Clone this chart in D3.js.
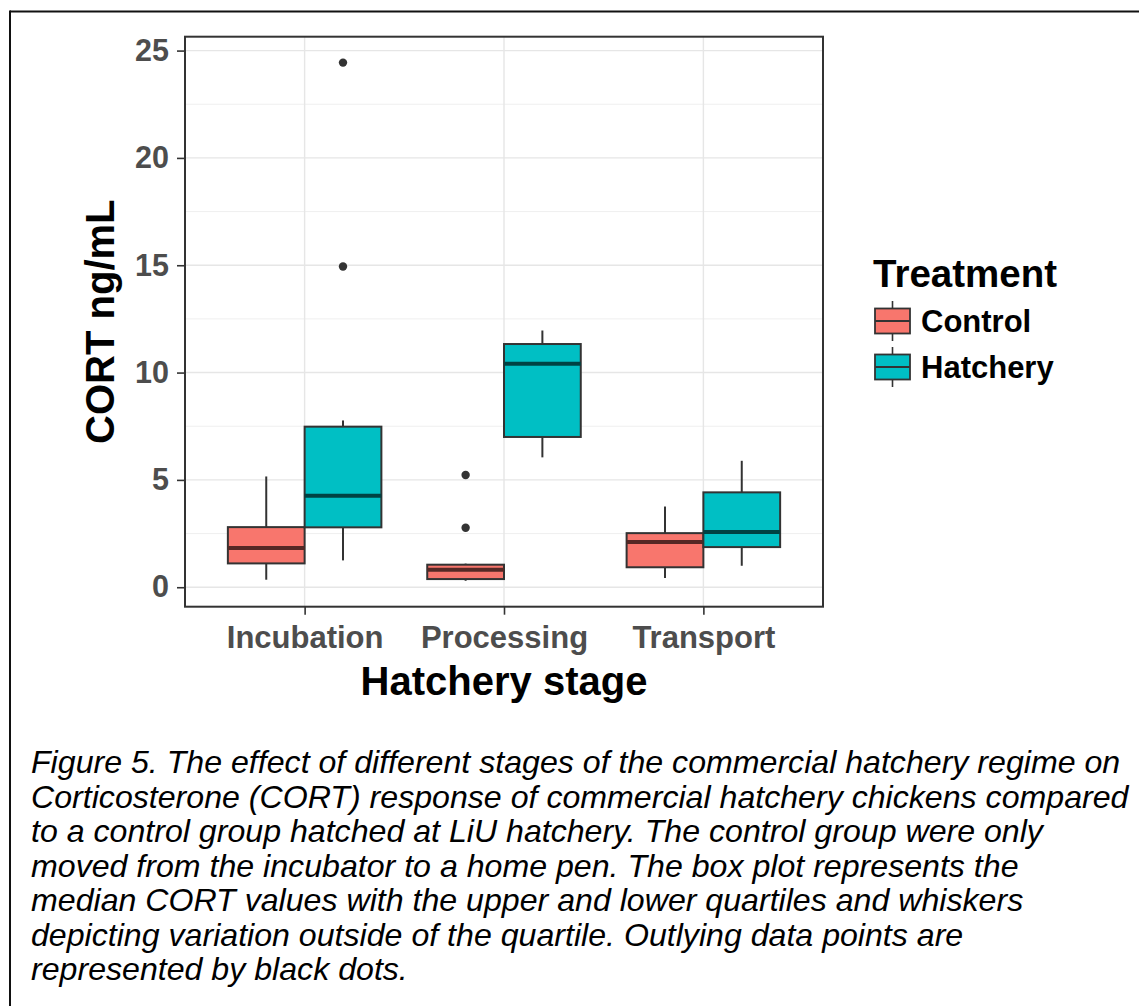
<!DOCTYPE html>
<html>
<head>
<meta charset="utf-8">
<script src="https://cdn.jsdelivr.net/npm/d3@7"></script>
<style>
  html, body { margin: 0; padding: 0; background: #fff; }
  svg { display: block; }
  text { font-family: "Liberation Sans", Arial, Helvetica, sans-serif; }
</style>
</head>
<body>
<svg id="fig" width="1139" height="1006"></svg>
<script>
// Hatchery stages on the x axis and treatment groups within each stage
const categories = ["Incubation", "Processing", "Transport"];
const treatments = ["Control", "Hatchery"];
const treatmentColors = ["#F8766D", "#00BFC4"];

// Box statistics per stage (ng/mL)
const controlLower   = [0.35, 0.30, 0.43];
const controlQ1      = [1.11, 0.38, 0.93];
const controlMedian  = [1.83, 0.82, 2.11];
const controlQ3      = [2.80, 1.05, 2.52];
const controlUpper   = [5.16, 1.10, 3.76];
const controlOutliers = [[], [5.23, 2.77], []];

const hatcheryLower   = [1.25, 6.05, 1.00];
const hatcheryQ1      = [2.79, 7.00, 1.87];
const hatcheryMedian  = [4.26, 10.41, 2.57];
const hatcheryQ3      = [7.48, 11.33, 4.42];
const hatcheryUpper   = [7.77, 11.96, 5.89];
const hatcheryOutliers = [[24.44, 14.94], [], []];

const yTicks = [0, 5, 10, 15, 20, 25];
const yMinorTicks = [2.5, 7.5, 12.5, 17.5, 22.5];

const xTitle = "Hatchery stage";
const yTitle = "CORT ng/mL";
const legendTitle = "Treatment";

const captionLines = [
  "Figure 5. The effect of different stages of the commercial hatchery regime on",
  "Corticosterone (CORT) response of commercial hatchery chickens compared",
  "to a control group hatched at LiU hatchery. The control group were only",
  "moved from the incubator to a home pen. The box plot represents the",
  "median CORT values with the upper and lower quartiles and whiskers",
  "depicting variation outside of the quartile. Outlying data points are",
  "represented by black dots."
];

// Build one record per box
const series = [
  { name: "Control", lower: controlLower, q1: controlQ1, median: controlMedian, q3: controlQ3, upper: controlUpper, outliers: controlOutliers },
  { name: "Hatchery", lower: hatcheryLower, q1: hatcheryQ1, median: hatcheryMedian, q3: hatcheryQ3, upper: hatcheryUpper, outliers: hatcheryOutliers }
];
const boxes = [];
series.forEach(s => {
  categories.forEach((c, i) => {
    boxes.push({
      category: c, treatment: s.name,
      lower: s.lower[i], q1: s.q1[i], median: s.median[i], q3: s.q3[i], upper: s.upper[i],
      outliers: s.outliers[i]
    });
  });
});

const svg = d3.select("#fig");
const panel = { left: 185, right: 823, top: 36.7, bottom: 606.7 };

// Outer figure frame (top and left rules)
svg.append("line").attr("x1", 10).attr("x2", 1139).attr("y1", 11.5).attr("y2", 11.5)
  .attr("stroke", "#111").attr("stroke-width", 2);
svg.append("line").attr("x1", 10).attr("x2", 10).attr("y1", 10.5).attr("y2", 1006)
  .attr("stroke", "#111").attr("stroke-width", 2);

// Scales
const x = d3.scalePoint().domain(categories).range([panel.left, panel.right]).padding(0.6);
const dodgeWidth = x.step() * 0.77;
const xInner = d3.scaleBand().domain(treatments).range([-dodgeWidth / 2, dodgeWidth / 2]);
const color = d3.scaleOrdinal().domain(treatments).range(treatmentColors);

const allVals = boxes.flatMap(b => [b.lower, b.upper, ...b.outliers]);
const [vMin, vMax] = d3.extent(allVals);
const pad = (vMax - vMin) * 0.05;
const y = d3.scaleLinear().domain([vMin - pad, vMax + pad]).range([panel.bottom, panel.top]);

const g = svg.append("g");

// Grid lines
g.selectAll(".minor").data(yMinorTicks).join("line")
  .attr("x1", panel.left).attr("x2", panel.right)
  .attr("y1", d => y(d)).attr("y2", d => y(d))
  .attr("stroke", "#EFEFEF").attr("stroke-width", 1);
g.selectAll(".majorY").data(yTicks).join("line")
  .attr("x1", panel.left).attr("x2", panel.right)
  .attr("y1", d => y(d)).attr("y2", d => y(d))
  .attr("stroke", "#E6E6E6").attr("stroke-width", 1.4);
g.selectAll(".majorX").data(categories).join("line")
  .attr("x1", d => x(d)).attr("x2", d => x(d))
  .attr("y1", panel.top).attr("y2", panel.bottom)
  .attr("stroke", "#E6E6E6").attr("stroke-width", 1.4);

// Boxes
const boxG = g.selectAll(".box").data(boxes).join("g")
  .attr("transform", d => `translate(${x(d.category) + xInner(d.treatment) + xInner.bandwidth() / 2},0)`);
const bw = xInner.bandwidth();

boxG.append("line")
  .attr("x1", 0).attr("x2", 0)
  .attr("y1", d => y(d.upper)).attr("y2", d => y(d.q3))
  .attr("stroke", "#333").attr("stroke-width", 2);
boxG.append("line")
  .attr("x1", 0).attr("x2", 0)
  .attr("y1", d => y(d.q1)).attr("y2", d => y(d.lower))
  .attr("stroke", "#333").attr("stroke-width", 2);
boxG.append("rect")
  .attr("x", -bw / 2).attr("width", bw)
  .attr("y", d => y(d.q3)).attr("height", d => y(d.q1) - y(d.q3))
  .attr("fill", d => color(d.treatment))
  .attr("stroke", "#333").attr("stroke-width", 2);
boxG.append("line")
  .attr("x1", -bw / 2).attr("x2", bw / 2)
  .attr("y1", d => y(d.median)).attr("y2", d => y(d.median))
  .attr("stroke", d => d3.color(color(d.treatment)).darker(3).formatHex())
  .attr("stroke-width", 4);
boxG.selectAll("circle").data(d => d.outliers).join("circle")
  .attr("cx", 0).attr("cy", v => y(v)).attr("r", 4.2)
  .attr("fill", "#333");

// Panel border
g.append("rect")
  .attr("x", panel.left).attr("y", panel.top)
  .attr("width", panel.right - panel.left).attr("height", panel.bottom - panel.top)
  .attr("fill", "none").attr("stroke", "#333").attr("stroke-width", 2);

// Y axis
const yAxis = d3.axisLeft(y).tickValues(yTicks).tickSize(8).tickPadding(8).tickFormat(d3.format("d"));
const yAx = svg.append("g").attr("transform", `translate(${panel.left},0)`).call(yAxis);
yAx.select(".domain").remove();
yAx.selectAll(".tick line").attr("stroke", "#333").attr("stroke-width", 1.6);
yAx.selectAll(".tick text")
  .attr("font-family", "'Liberation Sans', Arial, sans-serif")
  .attr("font-size", 30.5).attr("font-weight", "bold").attr("fill", "#4D4D4D");

// X axis
const xAxis = d3.axisBottom(x).tickSize(8).tickPadding(10);
const xAx = svg.append("g").attr("transform", `translate(0,${panel.bottom})`).call(xAxis);
xAx.select(".domain").remove();
xAx.selectAll(".tick line").attr("stroke", "#333").attr("stroke-width", 1.6);
xAx.selectAll(".tick text")
  .attr("font-family", "'Liberation Sans', Arial, sans-serif")
  .attr("font-size", 31).attr("font-weight", "bold").attr("fill", "#4D4D4D")
  .attr("dy", null).attr("y", 41);

// Axis titles
svg.append("text")
  .attr("x", (panel.left + panel.right) / 2).attr("y", 695)
  .attr("text-anchor", "middle")
  .attr("font-size", 40).attr("font-weight", "bold").attr("fill", "#000")
  .text(xTitle);
svg.append("text")
  .attr("transform", `translate(114,${(panel.top + panel.bottom) / 2}) rotate(-90)`)
  .attr("text-anchor", "middle")
  .attr("font-size", 40).attr("font-weight", "bold").attr("fill", "#000")
  .text(yTitle);

// Legend
const legend = svg.append("g").attr("transform", "translate(873,0)");
legend.append("text").attr("x", 0).attr("y", 287)
  .attr("font-size", 38.5).attr("font-weight", "bold").attr("fill", "#000")
  .text(legendTitle);
const keyY = d3.scalePoint().domain(treatments).range([321, 367]);
const key = legend.selectAll(".key").data(treatments).join("g")
  .attr("transform", d => `translate(0,${keyY(d)})`);
key.append("line").attr("x1", 19.5).attr("x2", 19.5).attr("y1", -20).attr("y2", 20)
  .attr("stroke", "#333").attr("stroke-width", 1.6);
key.append("rect").attr("x", 2).attr("y", -12.5).attr("width", 35).attr("height", 25)
  .attr("fill", d => color(d)).attr("stroke", "#333").attr("stroke-width", 1.8);
key.append("line").attr("x1", 2).attr("x2", 37).attr("y1", 0).attr("y2", 0)
  .attr("stroke", "#333").attr("stroke-width", 1.8);
key.append("text").attr("x", 48).attr("y", 11)
  .attr("font-size", 31).attr("font-weight", "bold").attr("fill", "#000")
  .text(d => d);

// Caption, sized so the first line spans the text column
const cap = svg.append("g");
const capLines = cap.selectAll("text").data(captionLines).join("text")
  .attr("x", 31).attr("y", (d, i) => 773 + i * 34.5)
  .attr("font-style", "italic").attr("font-size", 32).attr("fill", "#000")
  .text(d => d);
const firstWidth = capLines.node().getComputedTextLength();
const fitted = 32 * 1090 / firstWidth;
capLines.attr("font-size", fitted);
</script>
</body>
</html>
